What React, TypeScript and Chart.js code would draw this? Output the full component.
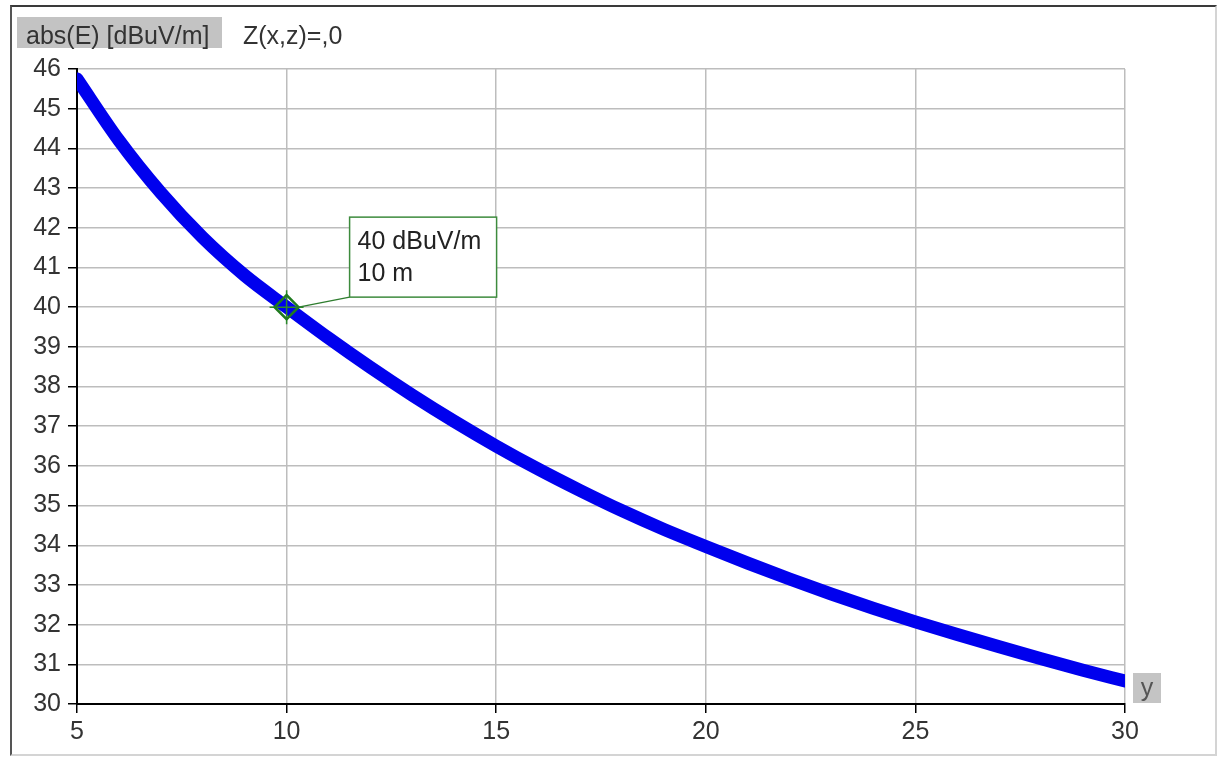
import React, { useEffect, useRef } from "react";
import { Chart, registerables } from "chart.js";

Chart.register(...registerables);

const distances = [5, 6, 7, 8, 9, 10, 11, 12, 13, 14, 15, 16, 17, 18, 19, 20, 21, 22, 23, 24, 25, 26, 27, 28, 29, 30];
const fieldStrength = [45.75, 44.2, 42.88, 41.75, 40.8, 40.0, 39.22, 38.48, 37.78, 37.12, 36.5, 35.92, 35.38, 34.87, 34.4, 33.97, 33.55, 33.15, 32.77, 32.41, 32.07, 31.75, 31.44, 31.14, 30.85, 30.58];
const markerX = [10];
const markerY = [40];
const markerLines = ["40 dBuV/m", "10 m"];
const yAxisTitle = "abs(E) [dBuV/m]";
const headerNote = "Z(x,z)=,0";
const xAxisTitle = "y";

const FONT = "'Liberation Sans', Arial, sans-serif";

const annotationPlugin = {
  id: "markerAnnotation",
  afterDatasetsDraw(chart: any) {
    const ctx = chart.ctx;
    const xs = chart.scales.x;
    const ys = chart.scales.y;
    const px = xs.getPixelForValue(markerX[0]);
    const py = ys.getPixelForValue(markerY[0]);
    const bx = px + 63;
    const by = py - 90;
    const bw = 147;
    const bh = 80;
    ctx.save();
    ctx.strokeStyle = "#2f7d2f";
    ctx.lineWidth = 1.5;
    ctx.beginPath();
    ctx.moveTo(px + 12, py);
    ctx.lineTo(bx, by + bh);
    ctx.stroke();
    ctx.fillStyle = "#ffffff";
    ctx.fillRect(bx, by, bw, bh);
    ctx.strokeStyle = "#3d8b3d";
    ctx.lineWidth = 1.5;
    ctx.strokeRect(bx, by, bw, bh);
    ctx.fillStyle = "#222222";
    ctx.font = `25px ${FONT}`;
    ctx.textAlign = "left";
    ctx.textBaseline = "alphabetic";
    ctx.fillText(markerLines[0], bx + 8, by + 32);
    ctx.fillText(markerLines[1], bx + 8, by + 64);
    const area = chart.chartArea;
    const lx = area.right + 8;
    const ly = area.bottom - 31;
    ctx.fillStyle = "#c4c4c4";
    ctx.fillRect(lx, ly, 28, 30);
    ctx.fillStyle = "#555555";
    ctx.font = `25px ${FONT}`;
    ctx.textAlign = "center";
    ctx.fillText(xAxisTitle, lx + 14, ly + 23);
    ctx.restore();
  },
};

export default function App() {
  const canvasRef = useRef<HTMLCanvasElement | null>(null);

  useEffect(() => {
    if (!canvasRef.current) return;
    const chart = new Chart(canvasRef.current, {
      type: "line",
      data: {
        datasets: [
          {
            label: "abs(E)",
            data: distances.map((d, i) => ({ x: d, y: fieldStrength[i] })),
            borderColor: "#0000ee",
            borderWidth: 13,
            borderCapStyle: "round",
            borderJoinStyle: "round",
            pointRadius: 0,
            cubicInterpolationMode: "monotone",
            fill: false,
            order: 3,
          },
          {
            label: "marker",
            data: markerX.map((d, i) => ({ x: d, y: markerY[i] })),
            showLine: false,
            pointStyle: "rectRot",
            pointRadius: 12,
            pointBorderWidth: 2.5,
            pointBorderColor: "#1f7a1f",
            pointBackgroundColor: "rgba(0,0,0,0)",
            order: 1,
          },
          {
            label: "cross",
            data: markerX.map((d, i) => ({ x: d, y: markerY[i] })),
            showLine: false,
            pointStyle: "cross",
            pointRadius: 17,
            pointBorderWidth: 1.5,
            pointBorderColor: "#2a8a2a",
            order: 2,
          },
        ],
      },
      options: {
        animation: false,
        responsive: false,
        maintainAspectRatio: false,
        layout: { padding: { left: 0, top: 69, right: 93, bottom: 0 } },
        plugins: { legend: { display: false }, tooltip: { enabled: false } },
        scales: {
          x: {
            type: "linear",
            min: 5,
            max: 30,
            ticks: {
              stepSize: 5,
              color: "#333333",
              font: { family: FONT, size: 25 },
              padding: 4,
              maxRotation: 0,
            },
            grid: { color: "#bdbdbd", lineWidth: 1.5, tickColor: "#000000", tickLength: 9, tickWidth: 1.5 },
            border: { display: true, color: "#000000", width: 2 },
            afterFit: (scale: any) => {
              scale.height = 54;
            },
          },
          y: {
            type: "linear",
            min: 30,
            max: 46,
            ticks: {
              stepSize: 1,
              color: "#333333",
              font: { family: FONT, size: 25 },
              padding: 7,
            },
            grid: { color: "#bdbdbd", lineWidth: 1.5, tickColor: "#000000", tickLength: 9, tickWidth: 1.5 },
            border: { display: true, color: "#000000", width: 2 },
            afterFit: (scale: any) => {
              scale.width = 77;
            },
          },
        },
      },
      plugins: [annotationPlugin],
    });
    return () => chart.destroy();
  }, []);

  return (
    <div style={{ position: "fixed", left: 0, top: 0, width: 1218, height: 758, background: "#ffffff", fontFamily: FONT }}>
      <canvas ref={canvasRef} width={1218} height={758} style={{ position: "absolute", left: 0, top: 0 }} />
      <div
        style={{
          position: "absolute",
          left: 10,
          top: 5,
          width: 1203,
          height: 747,
          borderTop: "2px solid #3a3a3a",
          borderLeft: "2px solid #555555",
          borderRight: "2px solid #d4d4d4",
          borderBottom: "2px solid #d4d4d4",
          pointerEvents: "none",
        }}
      />
      <div
        style={{
          position: "absolute",
          left: 17,
          top: 17,
          width: 205,
          height: 31,
          background: "#c3c3c3",
          color: "#333333",
          fontSize: 25,
          lineHeight: "36px",
          paddingLeft: 9,
          boxSizing: "border-box",
          whiteSpace: "nowrap",
        }}
      >
        {yAxisTitle}
      </div>
      <div
        style={{
          position: "absolute",
          left: 243,
          top: 17,
          color: "#333333",
          fontSize: 25,
          lineHeight: "36px",
          whiteSpace: "nowrap",
        }}
      >
        {headerNote}
      </div>
    </div>
  );
}
